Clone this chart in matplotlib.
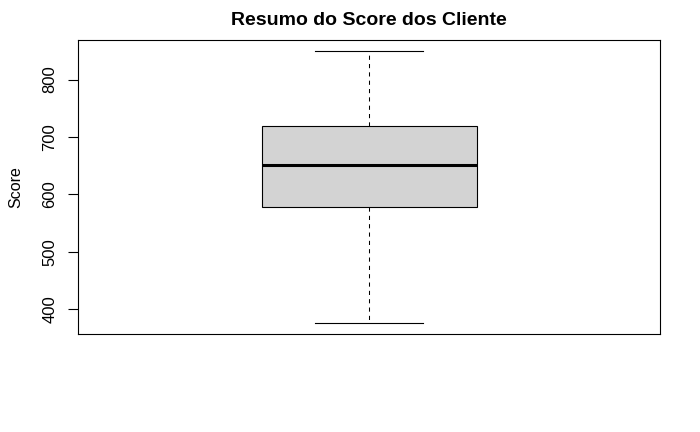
import matplotlib
matplotlib.use("Agg")
import matplotlib.pyplot as plt

# box summary
stats = [{
    "label": "",
    "whislo": 376,
    "q1": 579,
    "med": 652,
    "q3": 720,
    "whishi": 850,
    "fliers": [],
}]
yticks = [400, 500, 600, 700, 800]

plt.rcParams["font.family"] = ["Liberation Sans", "DejaVu Sans"]

fig = plt.figure(figsize=(7, 4.32), dpi=100)
ax = fig.add_axes([0.1119, 0.2269, 0.8311, 0.6805])

ax.bxp(stats, positions=[1], widths=0.37, patch_artist=True,
       boxprops=dict(facecolor="#D3D3D3", edgecolor="black", linewidth=0.8),
       medianprops=dict(color="black", linewidth=2.2, solid_capstyle="butt"),
       whiskerprops=dict(color="black", linewidth=0.75, linestyle=(0, (4, 4))),
       capprops=dict(color="black", linewidth=0.8),
       capwidths=0.185)

ax.set_xlim(0.5, 1.5)
lo, hi = stats[0]["whislo"], stats[0]["whishi"]
pad = (hi - lo) * 0.04
ax.set_ylim(lo - pad, hi + pad)

ax.set_xticks([])
ax.set_yticks(yticks)
ax.set_yticklabels([str(t) for t in yticks], rotation=90, va="center", fontsize=12)
ax.tick_params(axis="y", length=7, width=0.8, pad=8)
for s in ax.spines.values():
    s.set_linewidth(0.8)

ax.set_ylabel("Score", fontsize=11.5, labelpad=14)
ax.set_title("Resumo do Score dos Cliente", fontsize=14, fontweight="bold", pad=11)

fig.savefig("out.png", dpi=100)
